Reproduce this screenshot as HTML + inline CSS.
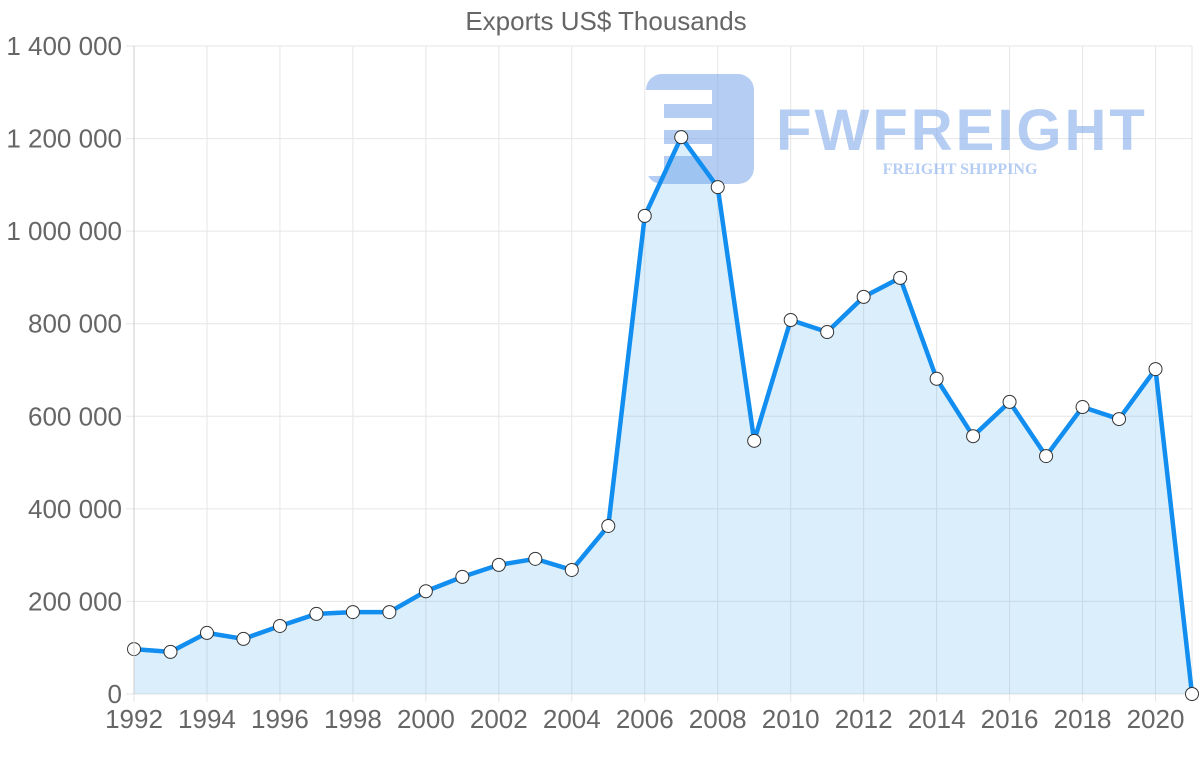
<!DOCTYPE html>
<html><head><meta charset="utf-8"><style>
body{margin:0;background:#fff;width:1200px;height:763px;overflow:hidden}
svg text{font-family:"Liberation Sans",sans-serif}
</style></head><body>
<svg id="chart" width="1200" height="763" xmlns="http://www.w3.org/2000/svg">
<text x="606" y="30" text-anchor="middle" font-size="26" fill="#666">Exports US$ Thousands</text>
<g id="grid"></g>
<g id="watermark" opacity="0.55">
<rect x="646" y="74" width="108" height="110" rx="16" fill="#7aa5ea"/>
<rect x="646" y="90" width="66" height="14" fill="#fff"/>
<rect x="646" y="104" width="18" height="72" fill="#fff"/>
<rect x="664" y="118" width="48" height="12" fill="#fff"/>
<rect x="664" y="144" width="48" height="12" fill="#fff"/>
<text x="962" y="150" text-anchor="middle" font-size="58" font-weight="bold" fill="#7aa5ea" letter-spacing="3">FWFREIGHT</text>
<text x="960" y="174" text-anchor="middle" font-size="16" font-weight="bold" fill="#7aa5ea" style="font-family:'Liberation Serif',serif">FREIGHT SHIPPING</text>
</g>
<g id="plot"></g>
<g id="axes"></g>
</svg>
<script>
const years=[1992,1993,1994,1995,1996,1997,1998,1999,2000,2001,2002,2003,2004,2005,2006,2007,2008,2009,2010,2011,2012,2013,2014,2015,2016,2017,2018,2019,2020,2021];
const exportsVals=[97000,91000,132000,119000,147000,173000,177000,177000,222000,253000,279000,292000,268000,363000,1033000,1203000,1095000,547000,808000,782000,858000,899000,681000,557000,631000,514000,620000,594000,702000,0];
const yTicks=[0,200000,400000,600000,800000,1000000,1200000,1400000];
const yTickLabels=["0","200 000","400 000","600 000","800 000","1 000 000","1 200 000","1 400 000"];
const xTickLabels=["1992","1994","1996","1998","2000","2002","2004","2006","2008","2010","2012","2014","2016","2018","2020"];
const NS="http://www.w3.org/2000/svg";
const x0=134,x1=1192,y0=694,y1=46;
const xs=v=>x0+(v-1992)/(2021-1992)*(x1-x0);
const ys=v=>y0-v/1400000*(y0-y1);
function mk(t,a,p){const e=document.createElementNS(NS,t);for(const k in a)e.setAttribute(k,a[k]);p.appendChild(e);return e;}
const grid=document.getElementById('grid'),axes=document.getElementById('axes'),plot=document.getElementById('plot');
yTicks.forEach((v,i)=>{
 const l=mk('line',{x1:x0-8,x2:x1,y1:ys(v),y2:ys(v),stroke:'#e6e6e6'},grid);
 
 
 const t=mk('text',{x:122,y:ys(v)+9,'text-anchor':'end','font-size':26,fill:'#666'},axes);
 t.textContent=yTickLabels[i];
 
 
});
xTickLabels.concat(["2021"]).forEach(s=>{
 const l=mk('line',{x1:xs(+s),x2:xs(+s),y1:y1,y2:y0+8,stroke:'#e6e6e6'},grid);
 
 
});
xTickLabels.forEach(s=>{
 const t=mk('text',{x:xs(+s),y:728,'text-anchor':'middle','font-size':26,fill:'#666'},axes);
 t.textContent=s;
 
 
});
const yax=mk('line',{x1:x0,x2:x0,y1:y1,y2:y0,stroke:'#ccc'},axes);


const pts=years.map((y,i)=>[xs(y),ys(exportsVals[i])]);
const area=mk('path',{d:'M'+x0+','+y0+' L'+pts.map(p=>p.join(',')).join(' L')+' L'+x1+','+y0+'Z',fill:'rgba(54,162,235,0.18)'},plot);


const line=mk('path',{d:'M'+pts.map(p=>p.join(',')).join(' L'),fill:'none',stroke:'#118ef0','stroke-width':4.5,'stroke-linejoin':'round'},plot);


pts.forEach(p=>{
 const c=mk('circle',{cx:p[0],cy:p[1],r:6.5,fill:'#fff',stroke:'#333','stroke-width':1},plot);
 
 
});
</script>
</body></html>
